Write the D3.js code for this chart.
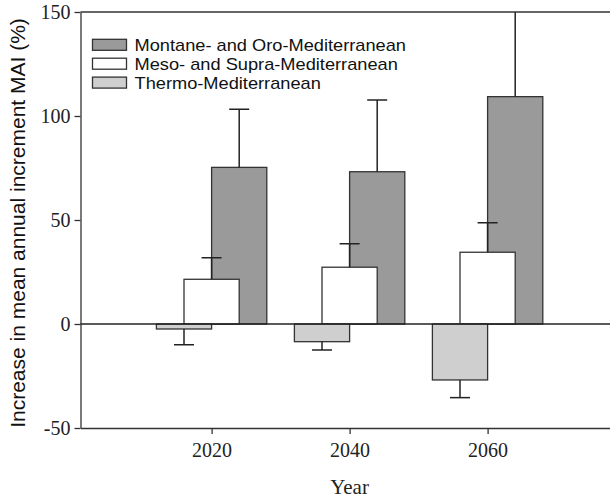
<!DOCTYPE html>
<html>
<head>
<meta charset="utf-8">
<script src="https://cdnjs.cloudflare.com/ajax/libs/d3/7.8.5/d3.min.js"></script>
<style>
	html, body { margin: 0; padding: 0; background: #fff; }
	svg { display: block; }
	.axis path, .axis line { stroke: #333; stroke-width: 1.3; }
	.bar { stroke: #333; stroke-width: 1.3; }
	.err { stroke: #222; stroke-width: 1.5; fill: none; }
	.legend text { font-family: 'Liberation Sans', Arial, sans-serif; font-size: 16px; fill: #111; }
</style>
</head>
<body>
<svg id="viz-mai" width="610" height="498"></svg>
<script>

// Years on the x axis.
var years = [ 2020, 2040, 2060 ];

// Zone names, in legend order.
var zoneNames = [ 'Montane- and Oro-Mediterranean', 'Meso- and Supra-Mediterranean', 'Thermo-Mediterranean' ];

// Mean increase in MAI (%) per year, and the error bar length.
var montaneValues = [ 75.3, 73.2, 109.3 ];
var montaneErrors = [ 27.9, 34.5, 55 ];
var mesoValues = [ 21.5, 27.3, 34.5 ];
var mesoErrors = [ 10.4, 11.3, 14.2 ];
var thermoValues = [ -2.4, -8.5, -26.9 ];
var thermoErrors = [ 7.6, 4.0, 8.5 ];

// Tick labels.
var yTicks = [ -50, 0, 50, 100, 150 ];

window.maiChart = {

	_margin: { top: 12, left: 80.5, bottom: 70 },

	_fills: [ '#9a9a9a', '#ffffff', '#cfcfcf' ],

	// Offset of each zone from the year, in years.
	_offsets: [ 4, 0, -4 ],

	_barYears: 8,

	_serif: "'Liberation Serif', 'Times New Roman', serif",

	_bindSvg: function () {
		this._svg = d3.select( '#viz-mai' );
		this._width = +this._svg.attr( 'width' );
		this._height = +this._svg.attr( 'height' );
		this._bottom = this._height - this._margin.bottom;
	},

	_createScales: function () {

		// The picture is cut off at the right, so the range runs past the svg.
		this._x = d3.scaleLinear()
			.domain( [ 2001, 2080 ] )
			.range( [ this._margin.left, this._margin.left + 79 * 6.9 ] );

		this._y = d3.scaleLinear()
			.domain( [ -50, 150 ] )
			.range( [ this._bottom, this._margin.top ] );

	},

	_createAxes: function () {

		var x = this._x, y = this._y;
		var plain = function ( d ) { return String( d ); };

		this._svg.append( 'g' )
			.classed( 'axis', true )
			.attr( 'transform', 'translate(0,' + this._bottom + ')' )
			.call( d3.axisBottom( x ).tickValues( years ).tickFormat( plain ).tickSize( 6 ).tickSizeOuter( 0 ).tickPadding( 9 ) )
			.selectAll( 'text' )
			.style( 'font-family', this._serif )
			.style( 'font-size', '20px' )
			.style( 'fill', '#222' );

		this._svg.append( 'g' )
			.classed( 'axis', true )
			.attr( 'transform', 'translate(' + this._margin.left + ',0)' )
			.call( d3.axisLeft( y ).tickValues( yTicks ).tickFormat( plain ).tickSize( 6 ).tickSizeOuter( 0 ).tickPadding( 4 ) )
			.selectAll( 'text' )
			.attr( 'dy', '0.34em' )
			.style( 'font-family', this._serif )
			.style( 'font-size', '20px' )
			.style( 'fill', '#222' );

		// Top frame line and the zero line.
		this._svg.append( 'line' )
			.attr( 'x1', this._margin.left ).attr( 'x2', this._width )
			.attr( 'y1', y( 150 ) ).attr( 'y2', y( 150 ) )
			.style( 'stroke', '#333' ).style( 'stroke-width', 1.3 );

		this._svg.append( 'line' )
			.attr( 'x1', this._margin.left ).attr( 'x2', this._width )
			.attr( 'y1', y( 0 ) ).attr( 'y2', y( 0 ) )
			.style( 'stroke', '#222' ).style( 'stroke-width', 1.3 );

		this._svg.append( 'text' )
			.attr( 'transform', 'translate(25,' + ( ( this._margin.top + this._bottom ) / 2 + 3 ) + ') rotate(-90)' )
			.attr( 'text-anchor', 'middle' )
			.style( 'font-family', "'Liberation Sans', Arial, sans-serif" )
			.style( 'font-size', '21px' )
			.style( 'fill', '#111' )
			.text( 'Increase in mean annual increment MAI (%)' );

		this._svg.append( 'text' )
			.attr( 'x', x( 2040 ) )
			.attr( 'y', 494 )
			.attr( 'text-anchor', 'middle' )
			.style( 'font-family', this._serif )
			.style( 'font-size', '21px' )
			.style( 'fill', '#222' )
			.text( 'Year' );

	},

	_createBars: function () {

		var x = this._x, y = this._y;
		var w = x( 2000 + this._barYears ) - x( 2000 );

		var zones = [
			{ values: montaneValues, errors: montaneErrors },
			{ values: mesoValues, errors: mesoErrors },
			{ values: thermoValues, errors: thermoErrors }
		];

		this._svg.append( 'clipPath' ).attr( 'id', 'plot-clip' )
			.append( 'rect' )
			.attr( 'x', this._margin.left ).attr( 'y', this._margin.top )
			.attr( 'width', this._width - this._margin.left ).attr( 'height', this._bottom - this._margin.top );

		var barLayer = this._svg.append( 'g' );
		var errLayer = this._svg.append( 'g' ).attr( 'clip-path', 'url(#plot-clip)' );

		zones.forEach( function ( zone, z ) {

			var data = years.map( function ( yr, i ) {
				return { year: yr, value: zone.values[i], err: zone.errors[i] };
			} );

			var cx = function ( d ) { return x( d.year + this._offsets[z] ); }.bind( this );

			barLayer.selectAll( 'rect.z' + z )
				.data( data )
				.enter()
				.append( 'rect' )
				.attr( 'class', 'bar z' + z )
				.attr( 'x', function ( d ) { return cx( d ) - w / 2; } )
				.attr( 'width', w )
				.attr( 'y', function ( d ) { return y( Math.max( 0, d.value ) ); } )
				.attr( 'height', function ( d ) { return Math.abs( y( d.value ) - y( 0 ) ); } )
				.style( 'fill', this._fills[z] );

			// Error bars point away from zero.
			var tip = function ( d ) { return y( d.value + ( d.value < 0 ? -d.err : d.err ) ); };

			var errs = errLayer.selectAll( 'g.e' + z )
				.data( data )
				.enter()
				.append( 'g' );

			errs.append( 'line' )
				.classed( 'err', true )
				.attr( 'x1', cx ).attr( 'x2', cx )
				.attr( 'y1', function ( d ) { return y( d.value ); } )
				.attr( 'y2', tip );

			errs.append( 'line' )
				.classed( 'err', true )
				.attr( 'x1', function ( d ) { return cx( d ) - 10; } )
				.attr( 'x2', function ( d ) { return cx( d ) + 10; } )
				.attr( 'y1', tip ).attr( 'y2', tip );

		}.bind( this ) );

	},

	_createLegend: function () {

		var legend = this._svg.append( 'g' ).classed( 'legend', true );

		var rows = legend.selectAll( 'g' )
			.data( zoneNames )
			.enter()
			.append( 'g' )
			.attr( 'transform', function ( d, i ) {
				return 'translate(92.5,' + ( 44.8 + i * 18.9 ) + ')';
			} );

		rows.append( 'rect' )
			.classed( 'bar', true )
			.attr( 'x', 0 ).attr( 'y', -5.5 )
			.attr( 'width', 34 ).attr( 'height', 11 )
			.style( 'fill', function ( d, i ) { return this._fills[i]; }.bind( this ) );

		// The source type is a little wide, so stretch it sideways.
		rows.append( 'text' )
			.attr( 'transform', 'translate(42,6) scale(1.14,1)' )
			.text( function ( d ) { return d; } );

	},

	on: function () {
		this._bindSvg();
		this._createScales();
		this._createBars();
		this._createAxes();
		this._createLegend();
	}

};

window.maiChart.on();
</script>
</body>
</html>
